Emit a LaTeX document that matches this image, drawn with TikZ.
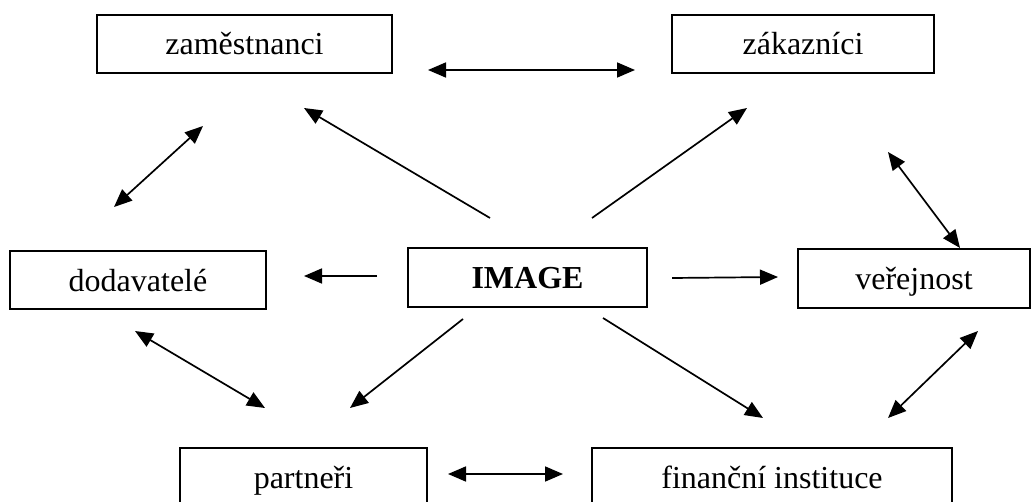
\documentclass[tikz,border=0pt]{standalone}
\usepackage{fontspec}
\setmainfont{Liberation Serif}
\usetikzlibrary{arrows.meta}
\tikzset{
  box/.style={draw, line width=1.4pt, inner sep=0pt, text height=30pt, text depth=8pt, font=\fontsize{32}{38}\selectfont},
  tip/.tip={Triangle[length=18pt,width=15pt]},
  conn/.style={line width=1.7pt, -tip},
  dconn/.style={line width=1.7pt, tip-tip}
}
\begin{document}
\begin{tikzpicture}[x=1pt,y=-1pt]
\useasboundingbox (0,0) rectangle (1032,502);
\fill[white] (0,0) rectangle (1032,502);
% boxes
\node[box, minimum width=295pt, minimum height=58pt] (zam) at (244.5,44) {zaměstnanci};
\node[box, minimum width=262pt, minimum height=58pt] (zak) at (803,44) {zákazníci};
\node[box, minimum width=256pt, minimum height=58pt] (dod) at (138,280) {dodavatelé};
\node[box, minimum width=239pt, minimum height=59pt, font=\fontsize{32}{38}\selectfont\bfseries] (img) at (527.5,277.5) {IMAGE};
\node[box, minimum width=232pt, minimum height=59pt] (ver) at (914,278.5) {veřejnost};
\node[box, minimum width=247pt, minimum height=58pt] (par) at (303.5,477) {partneři};
\node[box, minimum width=360pt, minimum height=58pt] (fin) at (772,477) {finanční instituce};
% connector end points
\coordinate (a1) at (428,70);  \coordinate (a2) at (635,70);
\coordinate (b1) at (490,218); \coordinate (b2) at (304,108);
\coordinate (c1) at (592,218); \coordinate (c2) at (747,108);
\coordinate (d1) at (114,207); \coordinate (d2) at (203,126);
\coordinate (e1) at (377,276); \coordinate (e2) at (304,276);
\coordinate (f1) at (672,278); \coordinate (f2) at (778,277);
\coordinate (g1) at (888,152); \coordinate (g2) at (960,248);
\coordinate (h1) at (135,331); \coordinate (h2) at (265,408);
\coordinate (i1) at (463,319); \coordinate (i2) at (350,408);
\coordinate (j1) at (603,318); \coordinate (j2) at (763,418);
\coordinate (k1) at (978,331); \coordinate (k2) at (888,418);
\coordinate (l1) at (448,474); \coordinate (l2) at (563,474);
% connectors
\draw[dconn] (a1) -- (a2);
\draw[conn] (b1) -- (b2);
\draw[conn] (c1) -- (c2);
\draw[dconn] (d1) -- (d2);
\draw[conn] (e1) -- (e2);
\draw[conn] (f1) -- (f2);
\draw[dconn] (g1) -- (g2);
\draw[dconn] (h1) -- (h2);
\draw[conn] (i1) -- (i2);
\draw[conn] (j1) -- (j2);
\draw[dconn] (k1) -- (k2);
\draw[dconn] (l1) -- (l2);
\end{tikzpicture}
\end{document}
